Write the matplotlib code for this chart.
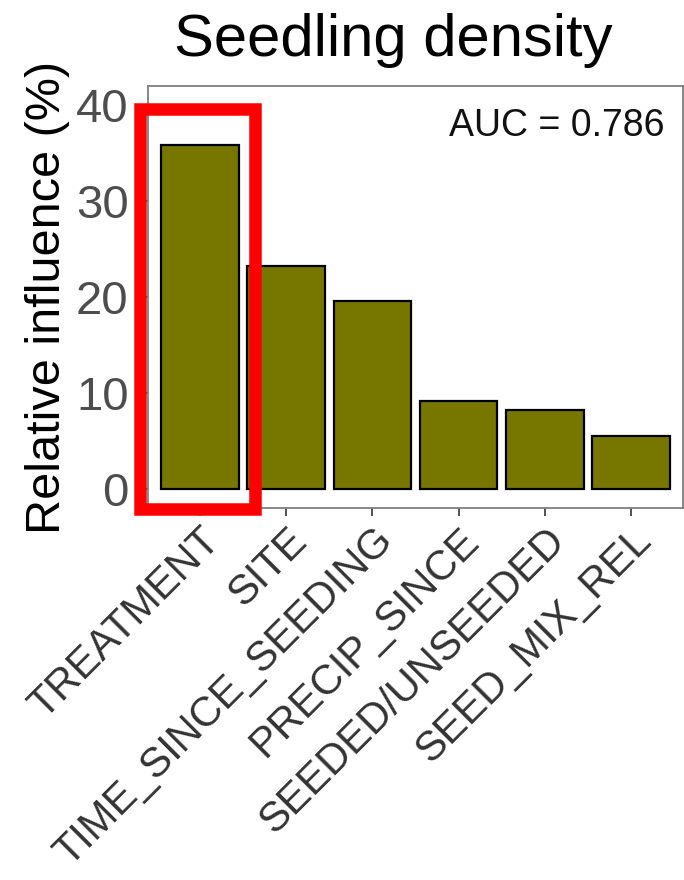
"""Relative influence bar chart for seedling density (BRT model)."""
import matplotlib.pyplot as plt
from matplotlib.patches import Rectangle

plt.rcParams["font.family"] = ["Liberation Sans", "DejaVu Sans"]

# data
variables = ["TREATMENT", "SITE", "TIME_SINCE_SEEDING", "PRECIP_SINCE",
             "SEEDED/UNSEEDED", "SEED_MIX_REL"]
influence = [35.8, 23.2, 19.6, 9.2, 8.2, 5.5]
y_ticks = [0, 10, 20, 30, 40]
auc_label = "AUC = 0.786"

W, H = 684, 880


def main() -> None:
    fig = plt.figure(figsize=(W / 100, H / 100), dpi=100)
    ax = fig.add_axes([148 / W, 1 - 508 / H, (683 - 148) / W, (508 - 86) / H])

    x = range(len(variables))
    ax.bar(x, influence, width=0.9, color="#777700", edgecolor="black",
           linewidth=1.6)

    ax.set_xlim(-0.6, len(variables) - 0.4)
    ax.set_ylim(-2, 42)
    ax.set_yticks(y_ticks)
    ax.set_xticks(list(x))
    ax.set_xticklabels(variables, rotation=45, ha="right", va="top",
                       rotation_mode="anchor", fontsize=30, color="#4d4d4d")
    ax.tick_params(axis="y", labelsize=34, labelcolor="#4d4d4d",
                   colors="#333333", length=5, width=1.2, pad=9)
    ax.tick_params(axis="x", colors="#333333", length=6, width=1.2, pad=3)
    for sp in ax.spines.values():
        sp.set_color("#7f7f7f")
        sp.set_linewidth(1.3)

    ax.set_ylabel("Relative influence (%)", fontsize=35, labelpad=4)
    ax.text(0.965, 0.905, auc_label, transform=ax.transAxes, ha="right",
            va="center", fontsize=27, color="#111111")
    fig.text(393 / W, 1 - 40 / H, "Seedling density", ha="center",
             va="center", fontsize=43, color="black")

    # highlight box around the top variable
    fig.add_artist(Rectangle((139.5 / W, 1 - 509 / H), (255 - 139.5) / W,
                             (509 - 109.5) / H, transform=fig.transFigure,
                             fill=False, edgecolor="#ff0000", linewidth=9,
                             clip_on=False))

    fig.savefig("out.png", dpi=100)


if __name__ == "__main__":
    main()
